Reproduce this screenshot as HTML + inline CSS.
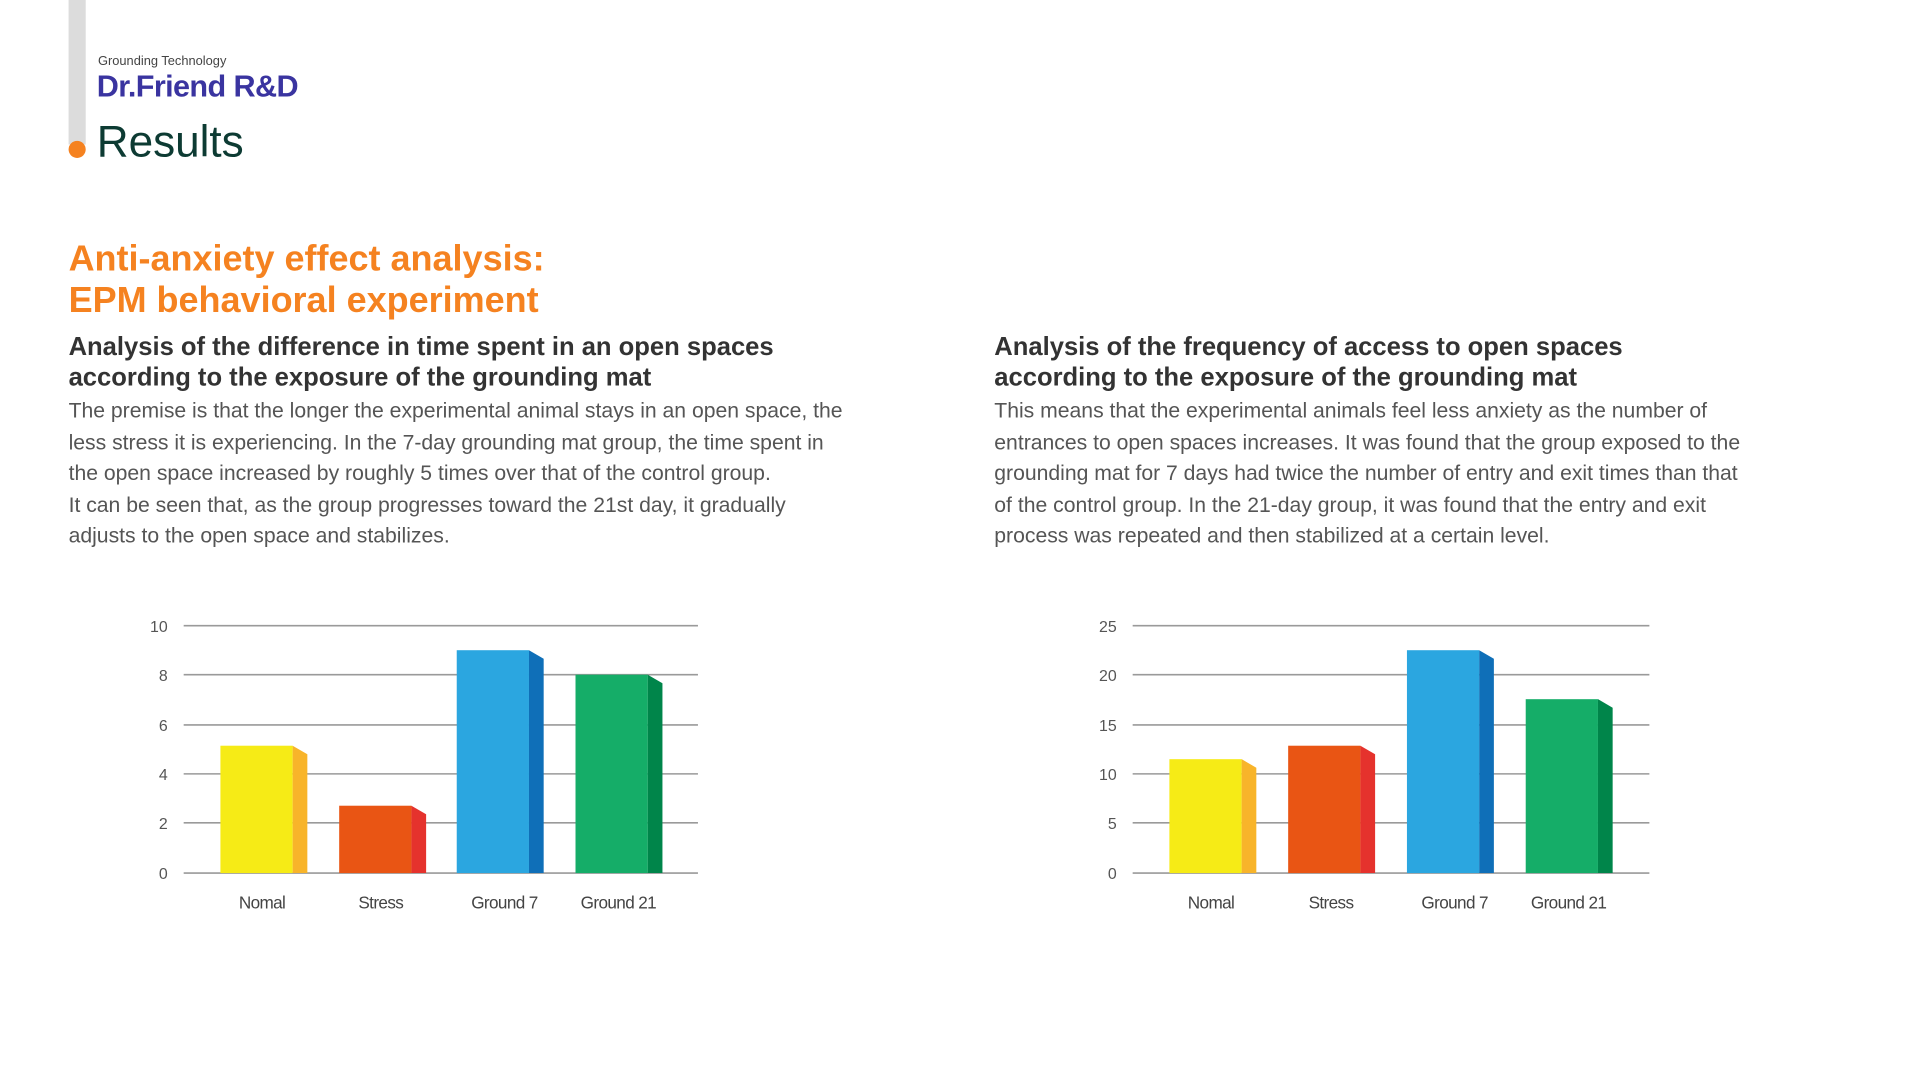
<!DOCTYPE html>
<html><head><meta charset="utf-8"><style>
html,body{margin:0;padding:0;background:#fff;width:1920px;height:1080px;overflow:hidden}
#p{position:absolute;left:0;top:0;width:1568px;height:882px;transform:scale(1.22449);transform-origin:0 0;font-family:"Liberation Sans",sans-serif}
.a{position:absolute;white-space:nowrap}
.sub{font-weight:bold;font-size:20.9px;color:#333;line-height:25px}
.body{font-size:17.3px;color:#555;line-height:25.6px;white-space:nowrap}
</style></head><body><div id="p">
<div class="a" style="left:56px;top:0;width:14px;height:118px;background:#dcdcdc"></div>
<div class="a" style="left:56px;top:115px;width:14px;height:14px;border-radius:50%;background:#f58220"></div>
<div class="a" style="left:80px;top:44px;font-size:10.5px;color:#444">Grounding Technology</div>
<div class="a" style="left:79px;top:57px;font-size:25px;font-weight:bold;color:#3a34a0;letter-spacing:-0.5px">Dr.Friend R&amp;D</div>
<div class="a" style="left:79px;top:95px;font-size:36px;color:#0d3b33">Results</div>
<div class="a" style="left:56px;top:195px;font-size:29.4px;font-weight:bold;color:#f58220;line-height:34px">Anti-anxiety effect analysis:<br>EPM behavioral experiment</div>
<div class="a sub" style="left:56px;top:271px">Analysis of the difference in time spent in an open spaces<br>according to the exposure of the grounding mat</div>
<div class="a body" style="left:56px;top:323px">The premise is that the longer the experimental animal stays in an open space, the<br>less stress it is experiencing. In the 7-day grounding mat group, the time spent in<br>the open space increased by roughly 5 times over that of the control group.<br>It can be seen that, as the group progresses toward the 21st day, it gradually<br>adjusts to the open space and stabilizes.</div>
<div class="a sub" style="left:812px;top:271px">Analysis of the frequency of access to open spaces<br>according to the exposure of the grounding mat</div>
<div class="a body" style="left:812px;top:323px">This means that the experimental animals feel less anxiety as the number of<br>entrances to open spaces increases. It was found that the group exposed to the<br>grounding mat for 7 days had twice the number of entry and exit times than that<br>of the control group. In the 21-day group, it was found that the entry and exit<br>process was repeated and then stabilized at a certain level.</div>
<svg class="a" style="left:0;top:0" width="1568" height="882" viewBox="0 0 1568 882" font-family="Liberation Sans, sans-serif" font-size="13" fill="#555">
<g stroke="#9a9a9a" stroke-width="1.3">
<line x1="150" x2="570" y1="511" y2="511"/><line x1="150" x2="570" y1="551" y2="551"/><line x1="150" x2="570" y1="592" y2="592"/><line x1="150" x2="570" y1="632" y2="632"/><line x1="150" x2="570" y1="672" y2="672"/><line x1="150" x2="570" y1="713" y2="713"/>
<line x1="925" x2="1347" y1="511" y2="511"/><line x1="925" x2="1347" y1="551" y2="551"/><line x1="925" x2="1347" y1="592" y2="592"/><line x1="925" x2="1347" y1="632" y2="632"/><line x1="925" x2="1347" y1="672" y2="672"/><line x1="925" x2="1347" y1="713" y2="713"/>
</g>
<g text-anchor="end">
<text x="137" y="516">10</text><text x="137" y="556">8</text><text x="137" y="597">6</text><text x="137" y="637">4</text><text x="137" y="677">2</text><text x="137" y="718">0</text>
<text x="912" y="516">25</text><text x="912" y="556">20</text><text x="912" y="597">15</text><text x="912" y="637">10</text><text x="912" y="677">5</text><text x="912" y="718">0</text>
</g>
<g>
<rect x="180" y="609" width="59" height="104" fill="#f6eb16"/><polygon points="239,609 251,616 251,713 239,713" fill="#f8b42a"/>
<rect x="277" y="658" width="59" height="55" fill="#e95514"/><polygon points="336,658 348,665 348,713 336,713" fill="#e5322d"/>
<rect x="373" y="531" width="59" height="182" fill="#2ba6e0"/><polygon points="432,531 444,538 444,713 432,713" fill="#0f6fb8"/>
<rect x="470" y="551" width="59" height="162" fill="#15ad68"/><polygon points="529,551 541,558 541,713 529,713" fill="#00854a"/>
<rect x="955" y="620" width="59" height="93" fill="#f6eb16"/><polygon points="1014,620 1026,627 1026,713 1014,713" fill="#f8b42a"/>
<rect x="1052" y="609" width="59" height="104" fill="#e95514"/><polygon points="1111,609 1123,616 1123,713 1111,713" fill="#e5322d"/>
<rect x="1149" y="531" width="59" height="182" fill="#2ba6e0"/><polygon points="1208,531 1220,538 1220,713 1208,713" fill="#0f6fb8"/>
<rect x="1246" y="571" width="59" height="142" fill="#15ad68"/><polygon points="1305,571 1317,578 1317,713 1305,713" fill="#00854a"/>
</g>
<g text-anchor="middle" font-size="14" letter-spacing="-0.5" fill="#444">
<text x="214" y="742">Nomal</text><text x="311" y="742">Stress</text><text x="412" y="742">Ground 7</text><text x="505" y="742">Ground 21</text>
<text x="989" y="742">Nomal</text><text x="1087" y="742">Stress</text><text x="1188" y="742">Ground 7</text><text x="1281" y="742">Ground 21</text>
</g>
</svg>
</div></body></html>
